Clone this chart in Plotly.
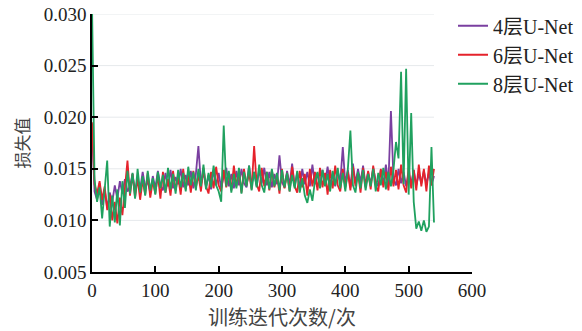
import plotly.graph_objects as go

# iterations (sampled every 4 iterations)
iters = list(range(0, 541, 4))

loss_4 = [0.0190, 0.0128, 0.0120, 0.0136, 0.0115, 0.0130, 0.0112, 0.0127, 0.0118, 0.0134,
          0.0121, 0.0138, 0.0126, 0.0140, 0.0128,
          0.0133, 0.0145, 0.0128, 0.0141, 0.0130, 0.0147, 0.0132, 0.0138, 0.0127, 0.0143,
          0.0131, 0.0148, 0.0134, 0.0129, 0.0146, 0.0133, 0.0149, 0.0131, 0.0142, 0.0135,
          0.0150, 0.0132, 0.0144, 0.0134, 0.0148, 0.0131, 0.0145, 0.0172, 0.0135, 0.0147,
          0.0132, 0.0144, 0.0130, 0.0149, 0.0134, 0.0146, 0.0131, 0.0143, 0.0151, 0.0133,
          0.0145, 0.0131, 0.0148, 0.0134, 0.0150, 0.0136, 0.0132, 0.0153, 0.0135, 0.0147,
          0.0133, 0.0149, 0.0136, 0.0151, 0.0134, 0.0147, 0.0132, 0.0145, 0.0135, 0.0163,
          0.0137, 0.0132, 0.0148, 0.0134, 0.0155, 0.0133, 0.0146, 0.0131, 0.0150, 0.0135,
          0.0147, 0.0133, 0.0154, 0.0135, 0.0146, 0.0132, 0.0149, 0.0136, 0.0152, 0.0134,
          0.0145, 0.0133, 0.0148, 0.0137, 0.0171, 0.0135, 0.0149, 0.0132, 0.0155, 0.0136,
          0.0150, 0.0137, 0.0153, 0.0134, 0.0147, 0.0135, 0.0151, 0.0138, 0.0133, 0.0149,
          0.0135, 0.0154, 0.0136, 0.0206, 0.0140, 0.0134, 0.0150, 0.0136, 0.0147, 0.0133, 0.0146,
          0.0135, 0.0149, 0.0134, 0.0145, 0.0136, 0.0148, 0.0135, 0.0146, 0.0134, 0.0143]

loss_6 = [0.0195, 0.0135, 0.0126, 0.0138, 0.0120, 0.0133, 0.0110, 0.0125, 0.0100, 0.0118,
          0.0097, 0.0122, 0.0105, 0.0130, 0.0158,
          0.0124, 0.0145, 0.0122, 0.0141, 0.0120, 0.0139, 0.0125, 0.0146, 0.0122, 0.0138,
          0.0126, 0.0144, 0.0121, 0.0147, 0.0127, 0.0140, 0.0124, 0.0148, 0.0129, 0.0143,
          0.0125, 0.0150, 0.0130, 0.0145, 0.0127, 0.0148, 0.0132, 0.0144, 0.0128, 0.0151,
          0.0133, 0.0126, 0.0147, 0.0131, 0.0152, 0.0134, 0.0128, 0.0149, 0.0132, 0.0146,
          0.0129, 0.0153, 0.0133, 0.0147, 0.0127, 0.0150, 0.0134, 0.0146, 0.0130, 0.0172,
          0.0135, 0.0128, 0.0151, 0.0133, 0.0147, 0.0129, 0.0149, 0.0132, 0.0145, 0.0126,
          0.0150, 0.0131, 0.0146, 0.0128, 0.0152, 0.0133, 0.0127, 0.0148, 0.0132, 0.0145,
          0.0124, 0.0150, 0.0133, 0.0147, 0.0129, 0.0151, 0.0132, 0.0146, 0.0125, 0.0149,
          0.0131, 0.0153, 0.0134, 0.0128, 0.0150, 0.0132, 0.0147, 0.0129, 0.0152, 0.0133,
          0.0146, 0.0127, 0.0151, 0.0132, 0.0148, 0.0130, 0.0153, 0.0134, 0.0128, 0.0150,
          0.0132, 0.0147, 0.0129, 0.0152, 0.0133, 0.0149, 0.0130, 0.0154, 0.0134, 0.0127, 0.0152,
          0.0131, 0.0149, 0.0129, 0.0154, 0.0133, 0.0150, 0.0128, 0.0153, 0.0134, 0.0150]

loss_8 = [0.0310, 0.0140, 0.0118, 0.0132, 0.0102, 0.0128, 0.0158, 0.0094, 0.0124, 0.0098,
          0.0130, 0.0095, 0.0138, 0.0112, 0.0148,
          0.0126, 0.0146, 0.0121, 0.0150, 0.0127, 0.0143, 0.0124, 0.0148, 0.0129, 0.0141,
          0.0125, 0.0147, 0.0131, 0.0144, 0.0127, 0.0151, 0.0130, 0.0145, 0.0126, 0.0149,
          0.0132, 0.0146, 0.0128, 0.0152, 0.0134, 0.0147, 0.0129, 0.0150, 0.0133, 0.0154,
          0.0130, 0.0146, 0.0132, 0.0153, 0.0134, 0.0128, 0.0118, 0.0192, 0.0133, 0.0148,
          0.0127, 0.0145, 0.0131, 0.0151, 0.0126, 0.0147, 0.0133, 0.0153, 0.0129, 0.0147,
          0.0132, 0.0154, 0.0134, 0.0127, 0.0147, 0.0130, 0.0150, 0.0133, 0.0146, 0.0129,
          0.0149, 0.0132, 0.0146, 0.0128, 0.0144, 0.0131, 0.0148, 0.0127, 0.0141, 0.0124,
          0.0117, 0.0130, 0.0119, 0.0138, 0.0147, 0.0131, 0.0149, 0.0133, 0.0145, 0.0128,
          0.0148, 0.0134, 0.0151, 0.0131, 0.0146, 0.0128, 0.0150, 0.0187, 0.0134, 0.0127,
          0.0147, 0.0131, 0.0149, 0.0129, 0.0145, 0.0133, 0.0150, 0.0128, 0.0146, 0.0134,
          0.0151, 0.0130, 0.0147, 0.0133, 0.0149, 0.0176, 0.0160, 0.0244, 0.0135, 0.0247, 0.0125,
          0.0204, 0.0118, 0.0092, 0.0099, 0.0090, 0.0100, 0.0089, 0.0094, 0.0171, 0.0098]

series_names = ["4层U-Net", "6层U-Net", "8层U-Net"]
series_colors = ["#7A3FA0", "#E5222B", "#20A15F"]

y_ticks = [0.005, 0.010, 0.015, 0.020, 0.025, 0.030]
x_ticks = [0, 100, 200, 300, 400, 500, 600]

serif = '"Liberation Serif", "Times New Roman", Times, "Noto Sans CJK SC", serif'
cjk = '"Noto Sans CJK SC", sans-serif'

fig = go.Figure()
for name, vals, col in zip(series_names, [loss_4, loss_6, loss_8], series_colors):
    fig.add_trace(go.Scatter(x=iters, y=vals, mode="lines", name=name,
                             line=dict(color=col, width=1.8)))

# light horizontal grid lines spanning the data range only
for yv in y_ticks[1:]:
    fig.add_shape(type="line", xref="x", yref="y", x0=0, x1=iters[-1], y0=yv, y1=yv,
                  line=dict(color="#e6e9ec", width=1), layer="below")

fig.update_layout(
    width=582, height=331,
    margin=dict(l=92, r=110, t=14, b=59, autoexpand=False),
    paper_bgcolor="white", plot_bgcolor="white",
    showlegend=True,
    legend=dict(x=0.95, y=1.03, xanchor="left", yanchor="top",
                font=dict(family=serif, size=20, color="#222"),
                bgcolor="rgba(0,0,0,0)", tracegroupgap=0),
    font=dict(family=serif, color="#222"),
)
fig.update_xaxes(range=[0, 600], tickvals=x_ticks, ticks="inside", ticklen=6,
                 tickwidth=1.5, tickcolor="black", showline=True, linecolor="black",
                 linewidth=1.5, showgrid=False, zeroline=False, automargin=False,
                 tickfont=dict(family=serif, size=19, color="#222"),
                 title=dict(text="训练迭代次数/次", font=dict(family=cjk, size=20, color="#444"),
                            standoff=20))
fig.update_yaxes(range=[0.005, 0.030], tickvals=y_ticks, tickformat=".3f",
                 ticks="inside", ticklen=6, tickwidth=1.5, tickcolor="black",
                 showline=True, linecolor="black", linewidth=1.5, showgrid=False,
                 zeroline=False, automargin=False,
                 tickfont=dict(family=serif, size=19, color="#222"),
                 title=dict(text="损失值", font=dict(family=cjk, size=17, color="#444"),
                            standoff=10))

fig.write_html("out.html")
